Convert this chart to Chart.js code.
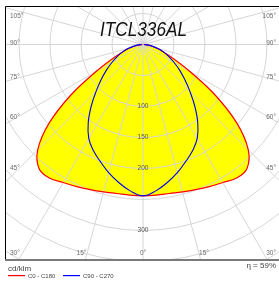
<!DOCTYPE html>
<html><head><meta charset="utf-8">
<script src="https://cdn.jsdelivr.net/npm/chart.js@4"></script>
<style>html,body{margin:0;padding:0;background:#fff}#w{width:279px;height:282px;position:relative}</style>
</head><body><div id="w"><canvas id="c"></canvas></div>
<script>
// ---- data (cd/klm) ----
const angles = [0,5,10,15,20,25,30,35,40,45,50,55,60,65,70,75,80,85,90];
const c0   = [244,244,244,246,249,253,257,263,261,240,198,142,88,55,35,22,12,5,1];
const c180 = [244,244,244,246,249,253,257,263,261,240,198,142,88,55,35,22,12,5,1];
const c90  = [244,237,226,214,201,189,175,154,130,107,88,72,58,46,35,25,15,7,2];
const c270 = [244,237,226,214,201,189,175,154,130,107,88,72,58,46,35,25,15,7,2];
const ringValues = [50,100,150,200,250,300,350,400];
const ringLabels = ['100','150','200','300'];
const angleLines = [0,15,30,45,60,75,90,105,120,135,150,165,180,195,210,225,240,255,270,285,300,315,330,345];
const chartTitle = 'ITCL336AL';
const unitText = 'cd/klm';
const seriesNames = ['C0 - C180','C90 - C270'];
const etaText = 'η = 59%';

function polarPoints(leftHalf, rightHalf){
  const pts = [];
  for (let i = angles.length-1; i >= 0; i--){
    const a = angles[i]*Math.PI/180;
    pts.push({x: -leftHalf[i]*Math.sin(a), y: -leftHalf[i]*Math.cos(a)});
  }
  for (let i = 1; i < angles.length; i++){
    const a = angles[i]*Math.PI/180;
    pts.push({x: rightHalf[i]*Math.sin(a), y: -rightHalf[i]*Math.cos(a)});
  }
  return pts;
}
const redPts = polarPoints(c180, c0);
const bluePts = polarPoints(c270, c90);

const gridPlugin = {
  id: 'polarGrid',
  afterDatasetDraw(chart, args){
    if (args.index !== 0) return;
    const ctx = chart.ctx, ca = chart.chartArea;
    const xs = chart.scales.x, ys = chart.scales.y;
    const cx = xs.getPixelForValue(0), cy = ys.getPixelForValue(0);
    const k = xs.getPixelForValue(1) - cx;
    ctx.save();
    ctx.beginPath(); ctx.rect(ca.left, ca.top, ca.right-ca.left, ca.bottom-ca.top); ctx.clip();
    ctx.strokeStyle = '#d6d6d6'; ctx.lineWidth = 1;
    ringValues.forEach(v => { ctx.beginPath(); ctx.arc(cx, cy, v*k, 0, Math.PI*2); ctx.stroke(); });
    angleLines.forEach(d => {
      const a = d*Math.PI/180;
      ctx.beginPath(); ctx.moveTo(cx, cy);
      ctx.lineTo(cx + Math.sin(a)*600, cy + Math.cos(a)*600); ctx.stroke();
    });
    ctx.restore();
  },
  afterDraw(chart){
    const ctx = chart.ctx, ca = chart.chartArea;
    const xs = chart.scales.x, ys = chart.scales.y;
    const cx = xs.getPixelForValue(0), cy = ys.getPixelForValue(0);
    ctx.save();
    // frame
    ctx.strokeStyle = '#000'; ctx.lineWidth = 1;
    ctx.beginPath(); ctx.moveTo(ca.left+0.5, ca.bottom); ctx.lineTo(ca.left+0.5, ca.top+0.5); ctx.lineTo(chart.width, ca.top+0.5); ctx.stroke();
    ctx.strokeStyle = '#7a7a7a'; ctx.lineWidth = 2;
    ctx.beginPath(); ctx.moveTo(ca.left, ca.bottom); ctx.lineTo(chart.width, ca.bottom); ctx.stroke();
    // radial labels
    ctx.font = '6.5px "Liberation Sans", Arial, sans-serif';
    ctx.textAlign = 'center'; ctx.textBaseline = 'middle'; ctx.fillStyle = '#555';
    ringLabels.forEach(t => ctx.fillText(t, cx, ys.getPixelForValue(-Number(t))));
    // angle labels
    ctx.fillStyle = '#6a6a6a';
    const L = ca.left + 5, R = ca.right - 3, B = ca.bottom - 7;
    const side = [['105°', cy-28.5],['90°', cy-1],['75°', cy+32.5],['60°', cy+72.5],['45°', cy+123.5]];
    side.forEach(([t,y]) => { ctx.textAlign='left'; ctx.fillText(t, L, y); ctx.textAlign='right'; ctx.fillText(t, R, y); });
    ctx.textAlign='left'; ctx.fillText('30°', L, B);
    ctx.textAlign='right'; ctx.fillText('30°', R, B);
    ctx.textAlign='center';
    ctx.fillText('15°', cx-61.5, B); ctx.fillText('0°', cx, B); ctx.fillText('15°', cx+61, B);
    // title
    ctx.fillStyle = '#111';
    ctx.font = 'italic 21px "Liberation Sans Narrow", "Liberation Sans", sans-serif';
    ctx.textBaseline = 'alphabetic'; ctx.textAlign = 'center';
    const w = ctx.measureText(chartTitle).width;
    ctx.save(); ctx.translate(cx+0.5, 36); ctx.scale(87/w, 1); ctx.fillText(chartTitle, 0, 0); ctx.restore();
    // bottom texts
    ctx.fillStyle = '#444'; ctx.textAlign = 'left'; ctx.textBaseline = 'middle';
    ctx.font = '8px "Liberation Sans", Arial, sans-serif';
    ctx.fillText(unitText, 8, 268.5);
    ctx.textAlign = 'right';
    ctx.fillText(etaText, 276, 266);
    ctx.textAlign = 'left';
    ctx.font = '6px "Liberation Sans", Arial, sans-serif';
    ctx.fillStyle = '#ff0000'; ctx.fillRect(8, 275, 17, 1.2);
    ctx.fillStyle = '#0000ff'; ctx.fillRect(63, 275, 17, 1.2);
    ctx.fillStyle = '#444';
    ctx.fillText(seriesNames[0], 28, 276);
    ctx.fillText(seriesNames[1], 83, 276);
    ctx.restore();
  }
};

const PX = 0.62; // pixels per cd/klm
new Chart(document.getElementById('c'), {
  type: 'scatter',
  data: { datasets: [
    { data: redPts, showLine: true, fill: 'shape', backgroundColor: '#ffff00', borderWidth: 0, pointRadius: 0, tension: 0.4, order: 3 },
    { data: redPts, showLine: true, fill: false, borderColor: '#ff0000', borderWidth: 1.2, pointRadius: 0, tension: 0.4, order: 2 },
    { data: bluePts, showLine: true, fill: false, borderColor: '#0000ee', borderWidth: 1.1, pointRadius: 0, tension: 0.4, order: 1 }
  ]},
  options: {
    responsive: true, maintainAspectRatio: false, animation: false,
    layout: { padding: { left: 5, top: 6, right: 0, bottom: 22 } },
    scales: {
      x: { type: 'linear', display: false, min: -138/PX, max: 136/PX },
      y: { type: 'linear', display: false, min: -215.5/PX, max: 38.5/PX }
    },
    plugins: { legend: { display: false }, tooltip: { enabled: false }, title: { display: false } }
  },
  plugins: [gridPlugin]
});
</script></body></html>
